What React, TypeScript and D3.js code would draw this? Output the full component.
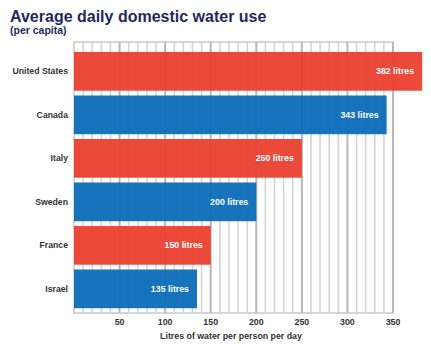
import React from "react";
import * as d3 from "d3";

const countries = ["United States", "Canada", "Italy", "Sweden", "France", "Israel"];
const litres = [382, 343, 250, 200, 150, 135];
const barColors = ["#EA4030", "#0A6CB8", "#EA4030", "#0A6CB8", "#EA4030", "#0A6CB8"];
const tickValues = [50, 100, 150, 200, 250, 300, 350];

const W = 431;
const H = 351;

export default function App() {
  const x = d3.scaleLinear().domain([0, 350]).range([74, 393]);
  const y = d3
    .scaleBand<string>()
    .domain(countries)
    .range([49.6, 310.6])
    .paddingInner(0.11)
    .paddingOuter(0.055);
  const minor = d3.range(10, 351, 10);
  const gridTop = 42;
  const gridBottom = 313;
  const font = "Liberation Sans, Arial, Helvetica, sans-serif";

  return (
    <svg
      width={W}
      height={H}
      style={{ position: "absolute", left: 0, top: 0, background: "#fff" }}
      fontFamily={font}
    >
      <text x={10} y={21.5} fontSize={16} fontWeight="bold" fill="#1E2A5E">
        Average daily domestic water use
      </text>
      <text x={10} y={33.5} fontSize={10.5} fontWeight="bold" fill="#1E2A5E">
        (per capita)
      </text>

      {/* grid */}
      <rect
        x={x(0)}
        y={gridTop}
        width={x(350) - x(0)}
        height={gridBottom - gridTop}
        fill="#fff"
        stroke="#c8c8c8"
        strokeWidth={1.5}
      />
      {minor.map((v) => (
        <line
          key={v}
          x1={x(v)}
          x2={x(v)}
          y1={gridTop}
          y2={gridBottom}
          stroke={v % 50 === 0 ? "#b8b8b8" : "#d4d4d4"}
          strokeWidth={v % 50 === 0 ? 2 : 1.6}
        />
      ))}

      {/* bars */}
      {countries.map((c, i) => (
        <g key={c}>
          <rect
            x={x(0)}
            y={y(c)}
            width={x(litres[i]) - x(0)}
            height={y.bandwidth()}
            fill={barColors[i]}
            opacity={0.95}
          />
          <text
            x={x(litres[i]) - 8}
            y={(y(c) as number) + y.bandwidth() / 2}
            dy="0.35em"
            textAnchor="end"
            fontSize={8.8}
            fontWeight="bold"
            fill="#fff"
          >
            {litres[i]} litres
          </text>
          <text
            x={68}
            y={(y(c) as number) + y.bandwidth() / 2}
            dy="0.35em"
            textAnchor="end"
            fontSize={8.7}
            fontWeight="bold"
            fill="#333"
          >
            {c}
          </text>
        </g>
      ))}

      {/* ticks */}
      {tickValues.map((v) => (
        <text
          key={v}
          x={x(v)}
          y={322}
          dy="0.35em"
          textAnchor="middle"
          fontSize={8.8}
          fontWeight="bold"
          fill="#333"
        >
          {v}
        </text>
      ))}
      <text
        x={231}
        y={336}
        dy="0.35em"
        textAnchor="middle"
        fontSize={8.8}
        fontWeight="bold"
        fill="#333"
      >
        Litres of water per person per day
      </text>
    </svg>
  );
}
